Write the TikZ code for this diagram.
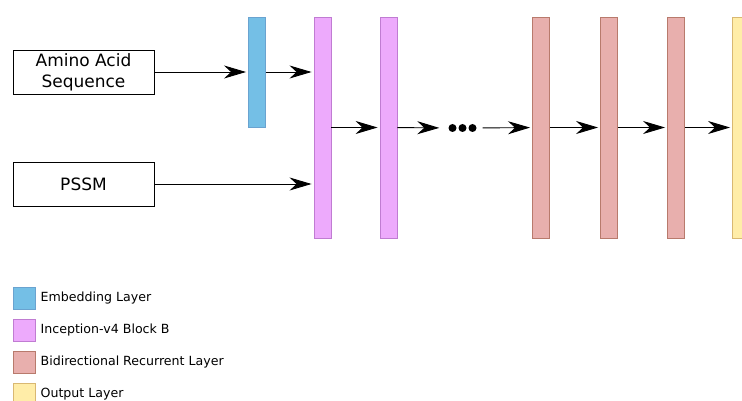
\documentclass[tikz,border=0pt]{standalone}
\usepackage{fontspec}
\setmainfont{DejaVu Sans}
\usetikzlibrary{arrows.meta, positioning}

\definecolor{embfill}{HTML}{74BFE6}
\definecolor{embline}{HTML}{6AA3D0}
\definecolor{incfill}{HTML}{EDAAFC}
\definecolor{incline}{HTML}{C07CD2}
\definecolor{recfill}{HTML}{E8AFAD}
\definecolor{recline}{HTML}{B87A6C}
\definecolor{outfill}{HTML}{FFEDA8}
\definecolor{outline}{HTML}{D9B872}

\tikzset{
  inputbox/.style={draw, line width=0.9pt, minimum width=141pt, minimum height=44pt,
    align=center, font=\fontsize{17}{21}\selectfont, inner sep=0pt},
  layer/.style={draw, line width=0.9pt, minimum width=17pt, minimum height=221pt, inner sep=0pt},
  embed/.style={layer, fill=embfill, draw=embline, minimum height=110pt},
  incep/.style={layer, fill=incfill, draw=incline},
  recur/.style={layer, fill=recfill, draw=recline},
  outp/.style={layer, fill=outfill, draw=outline},
  dot/.style={circle, fill=black, minimum size=8pt, inner sep=0pt},
  key/.style={draw, line width=0.9pt, minimum size=22pt, inner sep=0pt},
  keytext/.style={anchor=west, font=\fontsize{12.6}{14}\selectfont, inner sep=0pt},
}

\begin{document}
\begin{tikzpicture}[x=1pt, y=-1pt, shorten >=2pt, node distance=67pt, on grid,
    >={Stealth[length=22pt, width=13pt, inset=7pt]}]
  \useasboundingbox (0,0) rectangle (742,401);

  % inputs
  \node[inputbox] (aa) at (83.5,72) {Amino Acid\\Sequence};
  \node[inputbox] (pssm) at (83.5,184) {PSSM};

  % layers
  \node[embed] (emb) at (257,72) {};
  \node[incep] (inc1) at (322.5,127.5) {};
  \node[incep] (inc2) [right=66pt of inc1] {};
  \node[dot] (d2) at (462.5,128) {};
  \node[dot] (d1) [left=10pt of d2] {};
  \node[dot] (d3) [right=10pt of d2] {};
  \node[recur] (rec1) at (541,127.5) {};
  \node[recur] (rec2) [right=68pt of rec1] {};
  \node[recur] (rec3) [right=of rec2] {};
  \node[outp] (out) [right=65pt of rec3] {};

  \path[->, line width=0.9pt]
    (aa) edge (emb)
    (emb) edge (emb -| inc1.west)
    (pssm) edge (pssm -| inc1.west)
    (inc1) edge (inc2)
    (inc2) edge[shorten >=9pt] (d1)
    (d3) edge[shorten <=6pt] (rec1)
    (rec1) edge (rec2)
    (rec2) edge (rec3)
    (rec3) edge (out);

  % legend
  \node[key, fill=embfill, draw=embline] (k1) at (24,298) {};
  \node[key, fill=incfill, draw=incline] (k2) [below=32pt of k1] {};
  \node[key, fill=recfill, draw=recline] (k3) [below=32pt of k2] {};
  \node[key, fill=outfill, draw=outline] (k4) [below=32pt of k3] {};
  \node[keytext] at ([xshift=5pt]k1.east) {Embedding Layer};
  \node[keytext] at ([xshift=5pt]k2.east) {Inception-v4 Block B};
  \node[keytext] at ([xshift=5pt]k3.east) {Bidirectional Recurrent Layer};
  \node[keytext] at ([xshift=5pt]k4.east) {Output Layer};
\end{tikzpicture}
\end{document}
